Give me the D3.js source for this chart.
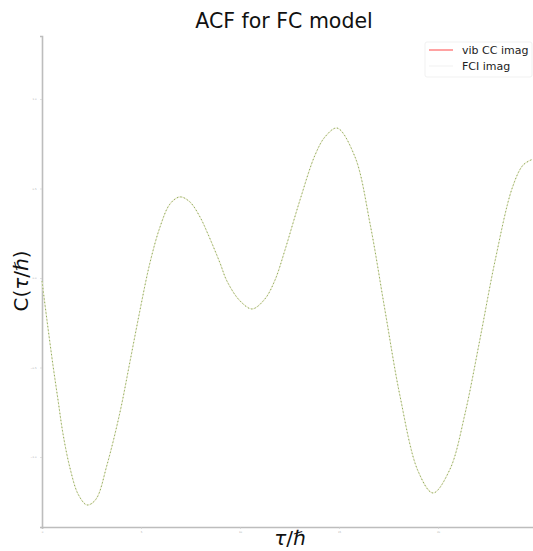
<!DOCTYPE html>
<html><head><meta charset="utf-8">
<script src="https://cdn.jsdelivr.net/npm/d3@7"></script>
<style>body{margin:0;background:#fff}svg{display:block}</style>
</head><body>
<script>
const tau = [0.00,0.25,0.56,0.81,1.06,1.41,1.82,2.27,2.73,3.28,3.94,4.44,4.95,5.45,5.96,6.46,6.97,7.47,7.98,8.38,8.99,9.34,10.00,10.61,11.26,11.77,12.27,13.03,13.79,14.29,14.90,15.81,16.57,17.32,18.08,18.99,19.75,20.61,21.36,22.12,22.88,23.74,24.29,24.75];
const vibCCImag = [-0.017,-0.235,-0.492,-0.682,-0.870,-1.060,-1.207,-1.268,-1.235,-1.045,-0.749,-0.469,-0.179,0.084,0.285,0.413,0.453,0.425,0.341,0.246,0.084,-0.017,-0.128,-0.173,-0.117,-0.011,0.156,0.436,0.687,0.788,0.838,0.676,0.302,-0.179,-0.659,-1.078,-1.201,-1.067,-0.760,-0.341,0.095,0.500,0.630,0.662];
const fciImag = vibCCImag.slice();
const xTicks = [0,5,10,15,20];
const yTicks = [-1.0,-0.5,0.0,0.5,1.0];
const seriesNames = ["vib CC imag","FCI imag"];

const W=533,H=551;
const svg=d3.select("body").append("svg").attr("width",W).attr("height",H);
const L=42,R=537,T=36,B=527;
const x=d3.scaleLinear().domain([0,25]).range([L,R]);
const y=d3.scaleLinear().domain([-1.391,1.352]).range([B,T]);

// axes
const xa=svg.append("g").attr("transform",`translate(0,${B})`).call(d3.axisBottom(x).tickValues(xTicks).tickSize(2).tickFormat(d=>d));
const ya=svg.append("g").attr("transform",`translate(${L},0)`).call(d3.axisLeft(y).tickValues(yTicks).tickSize(2).tickFormat(d3.format(".1f")));
[xa,ya].forEach(a=>{
  a.select(".domain").attr("stroke","#bdbdbd").attr("stroke-width",1.6);
  a.selectAll(".tick line").attr("stroke","#ccc").attr("stroke-width",0.6);
  a.selectAll(".tick text").attr("fill","#aaa").attr("font-size",2.5).attr("font-family","DejaVu Sans");
});
xa.selectAll(".tick text").attr("dy","0.3em");
ya.selectAll(".tick text").attr("dx","-0.2em");

const line=d3.line().x((d,i)=>x(tau[i])).y(d=>y(d)).curve(d3.curveCatmullRom);
svg.append("path").attr("d",line(vibCCImag)).attr("fill","none").attr("stroke","#ece9d2").attr("stroke-width",1.1);
svg.append("path").attr("d",line(fciImag)).attr("fill","none").attr("stroke","#76a040").attr("stroke-width",0.8).attr("stroke-dasharray","1.3,2.2");

// title and labels
svg.append("text").attr("x",284).attr("y",28).attr("text-anchor","middle").attr("font-family","DejaVu Sans").attr("font-size",20.5).attr("fill","#111").text("ACF for FC model");
const xl=svg.append("text").attr("x",290).attr("y",545).attr("text-anchor","middle").attr("font-family","DejaVu Sans").attr("font-size",20).attr("fill","#111");
xl.append("tspan").attr("font-style","italic").text("τ");
xl.append("tspan").text("/");
xl.append("tspan").attr("font-style","italic").text("ℏ");
const yl=svg.append("text").attr("transform","translate(28,281) rotate(-90)").attr("text-anchor","middle").attr("font-family","DejaVu Sans").attr("font-size",20).attr("fill","#111");
yl.append("tspan").text("C(");
yl.append("tspan").attr("font-style","italic").text("τ");
yl.append("tspan").text("/");
yl.append("tspan").attr("font-style","italic").text("ℏ");
yl.append("tspan").text(")");

// legend
const lg=svg.append("g");
lg.append("rect").attr("x",425).attr("y",42).attr("width",107).attr("height",35).attr("rx",2).attr("fill","#fff").attr("stroke","#eee").attr("stroke-width",0.8);
const colors=["#ff7070","#f4f4f4"];
seriesNames.forEach((n,i)=>{
  const yy=50+i*16;
  lg.append("line").attr("x1",429).attr("x2",453).attr("y1",yy).attr("y2",yy).attr("stroke",colors[i]).attr("stroke-width",1.3);
  lg.append("text").attr("x",462).attr("y",yy+4).attr("font-family","DejaVu Sans").attr("font-size",11).attr("fill","#222").text(n);
});
</script>
</body></html>
